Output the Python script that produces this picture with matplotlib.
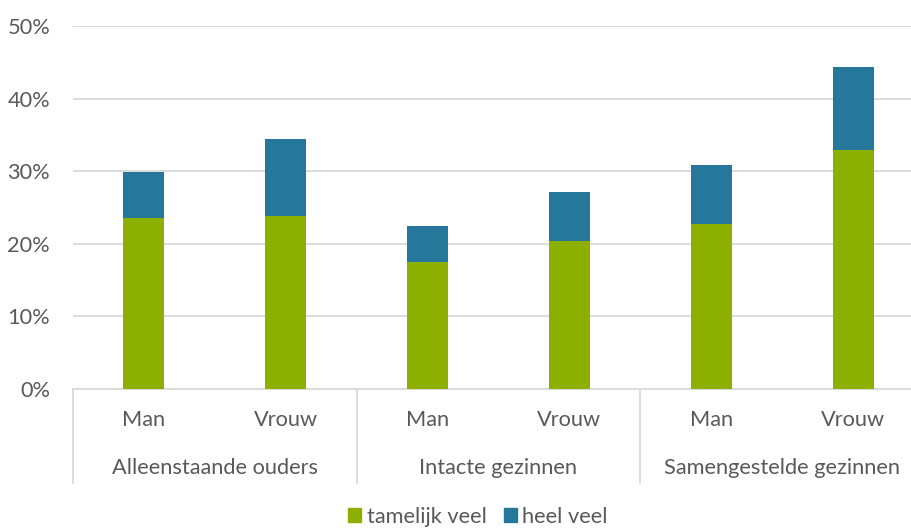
import numpy as np
import matplotlib.pyplot as plt
from matplotlib.patches import Patch

groups = ["Alleenstaande ouders", "Intacte gezinnen", "Samengestelde gezinnen"]
sexes = ["Man", "Vrouw"]
tamelijk_veel = [23.5, 23.8, 17.5, 20.4, 22.7, 32.9]
heel_veel = [6.4, 10.6, 4.9, 6.7, 8.2, 11.4]
y_ticks = [0, 10, 20, 30, 40, 50]

GREEN = "#8DAF00"
BLUE = "#25789A"
TEXT = "#595959"
GRID = "#D9D9D9"
FS = 15.7

plt.rcParams["font.family"] = ["Lato", "DejaVu Sans"]

W, H = 911, 529
fig = plt.figure(figsize=(W / 100, H / 100), dpi=100)
# axes placed in pixel terms: 0% at y=389, 50% at y=26, left at x=73
ax = fig.add_axes([73 / W, (H - 389) / H, 851 / W, 363 / H])

x = np.arange(len(tamelijk_veel))
ax.bar(x, tamelijk_veel, width=0.29, color=GREEN, zorder=3)
ax.bar(x, heel_veel, width=0.29, bottom=tamelijk_veel, color=BLUE, zorder=3)

ax.set_xlim(-0.5, len(x) - 0.5)
ax.set_ylim(0, 50)
ax.set_yticks(y_ticks)
ax.set_yticklabels([f"{v}%" for v in y_ticks], fontsize=FS, color=TEXT)
ax.tick_params(axis="y", length=0, pad=16.5)
ax.set_xticks([])
ax.yaxis.grid(True, color=GRID, linewidth=1.3, zorder=0)
for s in ["top", "right", "left"]:
    ax.spines[s].set_visible(False)
ax.spines["bottom"].set_color(GRID)
ax.spines["bottom"].set_linewidth(1.3)

# two level category axis
trans = ax.get_xaxis_transform()
depth = -94 / 363
for b in [-0.5, 1.5, 3.5]:
    ax.plot([b, b], [0, depth], transform=trans, color=GRID, lw=1.3, clip_on=False)
for i in x:
    ax.text(i, -31 / 363, sexes[i % 2], transform=trans, ha="center", va="center",
            fontsize=FS, color=TEXT)
for g, name in enumerate(groups):
    ax.text(2 * g + 0.5, -79 / 363, name, transform=trans, ha="center", va="center",
            fontsize=FS, color=TEXT)

handles = [Patch(color=GREEN), Patch(color=BLUE)]
fig.legend(handles, ["tamelijk veel", "heel veel"], loc="center",
           bbox_to_anchor=(478 / W, 1 - 517 / H), ncol=2, frameon=False,
           fontsize=FS, labelcolor=TEXT, handlelength=0.6, handleheight=0.6,
           handletextpad=0.25, columnspacing=0.8, borderpad=0)

fig.savefig("out.png", dpi=100)
plt.close(fig)
